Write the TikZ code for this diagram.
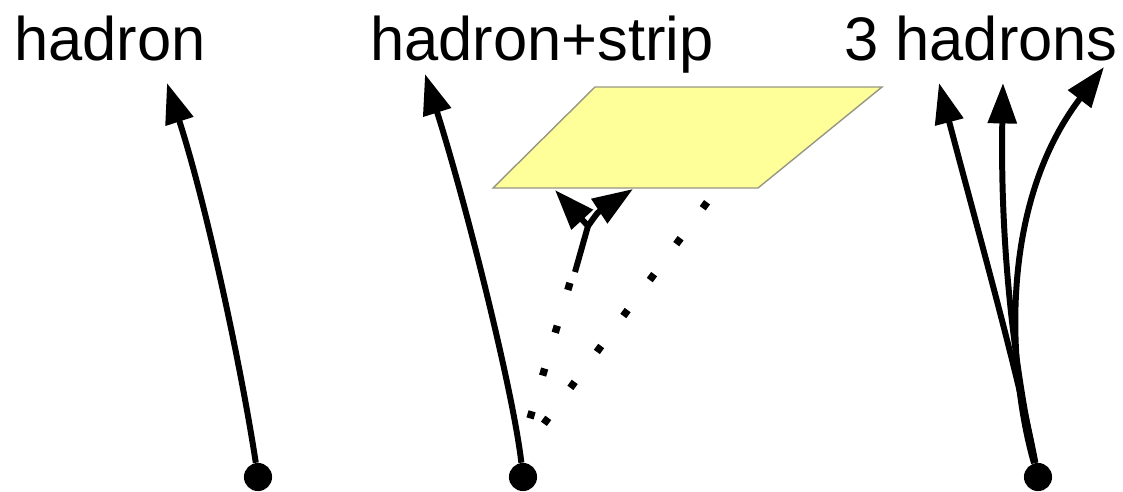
\documentclass[tikz,border=0pt]{standalone}
\usepackage{fontspec}
\setmainfont{Liberation Sans}
\usetikzlibrary{arrows.meta}
\definecolor{stripfill}{RGB}{255,255,153}
\definecolor{stripedge}{RGB}{150,150,130}

\begin{document}
\begin{tikzpicture}[x=0.02cm,y=-0.02cm,
  lbl/.style={anchor=base,inner sep=0pt,font=\fontsize{35}{40}\selectfont},
  vtx/.style={circle,fill,inner sep=0pt,minimum size=16pt},
  trk/.style={line width=3.4pt,->},
  phot/.style={line width=4.2pt,dash pattern=on 4.2pt off 21.2pt},
  >={Triangle[length=23pt,width=16pt]}]
\useasboundingbox (0,0) rectangle (1123,491);
% labels
\node[lbl] (lh) at (110,60) {hadron};
\node[lbl] (ls) at (542,60) {hadron+strip};
\node[lbl] (l3) at (981,60) {3 hadrons};
% strip
\draw[stripedge,fill=stripfill,line width=0.8pt] (595,87) -- (882,87) -- (758,188) -- (493,188) -- cycle;
% vertices
\node[vtx] (vh) at (258,477) {};
\node[vtx] (vs) at (523,477) {};
\node[vtx] (v3) at (1038,477) {};
% tips
\coordinate (th) at (167,83);
\coordinate (ts) at (425,74);
\coordinate (ta) at (939,83);
\coordinate (tb) at (1003,83);
\coordinate (tc) at (1104,67);
% strip photons
\coordinate (lda) at (530,418.4);
\coordinate (ldb) at (570,282.6);
\coordinate (rda) at (543.9,423.8);
\coordinate (rdb) at (707.1,202.2);
\coordinate (s0) at (575,272);
\coordinate (s1) at (588,226);
\coordinate (sl) at (555,190);
\coordinate (sr) at (633,189);
% hadron
\draw[trk] (vh) .. controls (240,360) and (205,200) .. (th);
% hadron+strip
\draw[trk] (vs) .. controls (513,390) and (465,200) .. (ts);
\draw[phot] (lda) -- (ldb);
\draw[phot] (rda) -- (rdb);
\draw[trk] (s0) -- (s1) -- (sl);
\draw[trk] (s1) .. controls (598,212) .. (sr);
% 3 hadrons
\draw[trk] (v3) .. controls (1020,380) and (975,220) .. (ta);
\draw[trk] (v3) .. controls (1015,370) and (1000,250) .. (tb);
\draw[trk] (v3) .. controls (1010,380) and (995,210) .. (tc);
\end{tikzpicture}
\end{document}
